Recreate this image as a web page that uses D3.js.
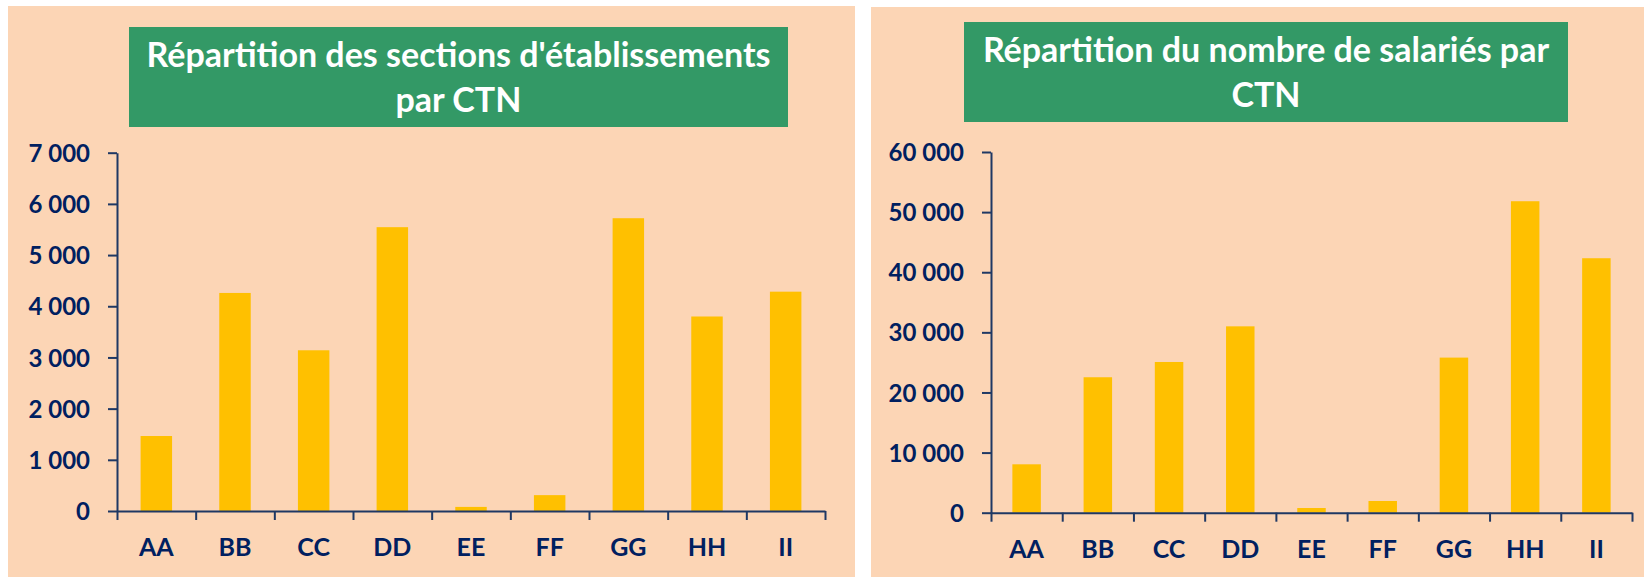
<!DOCTYPE html>
<html>
<head>
<meta charset="utf-8">
<script src="https://cdn.jsdelivr.net/npm/d3@7"></script>
<style>
  body { margin: 0; background: #ffffff; }
  svg { display: block; }
</style>
</head>
<body>
<div id="chart-container"></div>
<script>
// Categories (CTN) shared by both charts
var categories = ["AA", "BB", "CC", "DD", "EE", "FF", "GG", "HH", "II"];

// Left chart: établissements
var etabTitle = ["Répartition des sections d'établissements", "par CTN"];
var etabValues = [1465, 4260, 3140, 5545, 80, 310, 5720, 3800, 4285];
var etabTicks = [0, 1000, 2000, 3000, 4000, 5000, 6000, 7000];

// Right chart: salariés
var salTitle = ["Répartition du nombre de salariés par", "CTN"];
var salValues = [8050, 22530, 25070, 31000, 780, 1950, 25800, 51810, 42330];
var salTicks = [0, 10000, 20000, 30000, 40000, 50000, 60000];

var width = 1644, height = 577;
var navy = "#002060";
var axisColor = "#1f3864";
var fontFamily = "Lato, 'Open Sans', sans-serif";

var fmt = d3.formatLocale({ decimal: ",", thousands: " ", grouping: [3], currency: ["", "€"] }).format(",");

var svg = d3.select("#chart-container")
  .append("svg")
  .attr("width", width)
  .attr("height", height);

function drawPanel(opts) {
  var g = svg.append("g");

  // peach background
  g.append("rect")
    .attr("x", opts.panel[0])
    .attr("y", opts.panel[1])
    .attr("width", opts.panel[2])
    .attr("height", opts.panel[3])
    .attr("fill", "#fcd5b5");

  // green title box
  g.append("rect")
    .attr("x", opts.box[0])
    .attr("y", opts.box[1])
    .attr("width", opts.box[2])
    .attr("height", opts.box[3])
    .attr("fill", "#339966");

  var cx = opts.box[0] + opts.box[2] / 2;
  opts.title.forEach(function (line, i) {
    var t = g.append("text")
      .attr("x", cx)
      .attr("y", opts.titleY + i * 45.5)
      .attr("text-anchor", "middle")
      .style("font-family", fontFamily)
      .style("font-weight", "bold")
      .style("font-size", "34px")
      .attr("fill", "white")
      .text(line);
    // squeeze the wide first line a bit (Calibri is narrower)
    if (i === 0 && t.node().getComputedTextLength() > opts.titleWidth) {
      t.attr("textLength", opts.titleWidth).attr("lengthAdjust", "spacingAndGlyphs");
    }
  });

  // scales
  var x = d3.scaleBand()
    .domain(categories)
    .range([opts.x0, opts.x1])
    .paddingInner(0.6)
    .paddingOuter(0.3);

  var y = d3.scaleLinear()
    .domain([0, opts.ticks[opts.ticks.length - 1]])
    .range([opts.y0, opts.y1]);

  // bars
  g.selectAll(".bar")
    .data(opts.values)
    .enter()
    .append("rect")
    .attr("class", "bar")
    .attr("x", function (d, i) { return x(categories[i]); })
    .attr("y", function (d) { return y(d); })
    .attr("width", x.bandwidth())
    .attr("height", function (d) { return opts.y0 - y(d); })
    .attr("fill", "#ffc000");

  // Y axis
  var yAxis = g.append("g")
    .attr("transform", "translate(" + opts.x0 + ",0)")
    .call(d3.axisLeft(y).tickValues(opts.ticks).tickFormat(fmt).tickSize(9).tickSizeOuter(0).tickPadding(18));
  yAxis.select(".domain").attr("stroke", axisColor).attr("stroke-width", 2);
  yAxis.selectAll(".tick line").attr("stroke", axisColor).attr("stroke-width", 2);
  yAxis.selectAll("text")
    .attr("dy", "0.36em")
    .attr("fill", navy)
    .style("font-family", fontFamily)
    .style("font-weight", "bold")
    .style("font-size", "24px");

  // X axis: ticks between categories
  var xb = d3.scaleLinear().domain([0, categories.length]).range([opts.x0, opts.x1]);
  var xAxis = g.append("g")
    .attr("transform", "translate(0," + opts.y0 + ")")
    .call(d3.axisBottom(xb).tickValues(d3.range(categories.length + 1)).tickFormat("").tickSize(9).tickSizeOuter(0));
  xAxis.select(".domain").attr("stroke", axisColor).attr("stroke-width", 2);
  xAxis.selectAll(".tick line").attr("stroke", axisColor).attr("stroke-width", 2);

  // category labels
  g.selectAll(".cat")
    .data(categories)
    .enter()
    .append("text")
    .attr("class", "cat")
    .attr("x", function (d) { return x(d) + x.bandwidth() / 2; })
    .attr("y", opts.y0 + 45)
    .attr("text-anchor", "middle")
    .attr("fill", navy)
    .style("font-family", fontFamily)
    .style("font-weight", "bold")
    .style("font-size", "25px")
    .text(function (d) { return d; });
}

drawPanel({
  panel: [8, 6, 847, 571],
  box: [129, 27, 659, 100],
  title: etabTitle,
  titleY: 66.5,
  titleWidth: 641,
  values: etabValues,
  ticks: etabTicks,
  x0: 117, x1: 825,
  y0: 511, y1: 152.7
});

drawPanel({
  panel: [871, 7, 773, 570],
  box: [964, 22, 604, 100],
  title: salTitle,
  titleY: 61.5,
  titleWidth: 583,
  values: salValues,
  ticks: salTicks,
  x0: 991, x1: 1632,
  y0: 512.7, y1: 152
});
</script>
</body>
</html>
